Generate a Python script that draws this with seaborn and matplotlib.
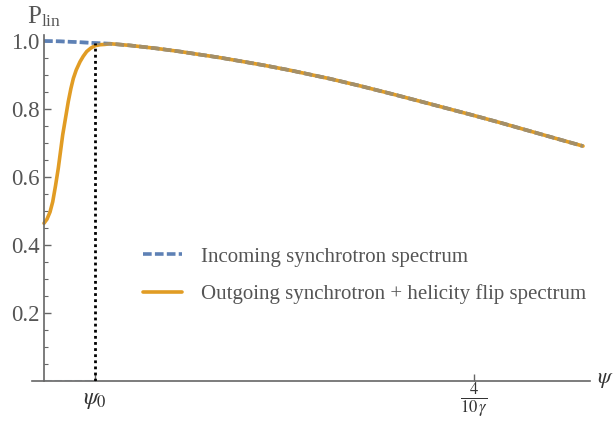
import numpy as np
import pandas as pd
import matplotlib
matplotlib.use("Agg")
import matplotlib.pyplot as plt
import seaborn as sns

# ---- data (psi in units where the tick 4/(10 gamma) = 0.4) ----
psi0 = 0.0474
psi_shared = [0.0474, 0.0614, 0.0800, 0.1051, 0.1265, 0.1451, 0.1619, 0.1823, 0.2056,
              0.2288, 0.2660, 0.2940, 0.3265, 0.3591, 0.3963, 0.4242, 0.4521, 0.4800, 0.5014]
p_shared = [0.994, 0.992, 0.987, 0.978, 0.969, 0.960, 0.952, 0.941, 0.928,
            0.914, 0.889, 0.868, 0.842, 0.815, 0.784, 0.760, 0.735, 0.710, 0.691]

psi_in_low = [0.0, 0.0149, 0.0298]
p_in_low = [1.000, 0.999, 0.997]

psi_out_low = [0.0, 0.0028, 0.0056, 0.0081, 0.0107, 0.0133, 0.0174, 0.0226, 0.0250, 0.0273,
               0.0300, 0.0335, 0.0365, 0.0397, 0.0435, 0.0474, 0.0520, 0.0567]
p_out_low = [0.464, 0.476, 0.497, 0.527, 0.574, 0.626, 0.724, 0.822, 0.860, 0.890,
             0.915, 0.939, 0.955, 0.969, 0.979, 0.986, 0.989, 0.990]

psi_in_floor = [0.0, 0.0474]
p_in_floor = [0.0, 0.0]

label_in = "Incoming synchrotron spectrum"
label_out = "Outgoing synchrotron + helicity flip spectrum"
xtick_vals = [psi0, 0.4]
xtick_labels = [r"$\psi_0$", r"$\frac{4}{10\,\gamma}$"]
ytick_vals = [0.2, 0.4, 0.6, 0.8, 1.0]
ytick_labels = ["0.2", "0.4", "0.6", "0.8", "1.0"]

df_in = pd.DataFrame({"psi": psi_in_low + psi_shared, "P": p_in_low + p_shared})
df_out = pd.DataFrame({"psi": psi_out_low + psi_shared[1:], "P": p_out_low + p_shared[1:]})
df_floor = pd.DataFrame({"psi": psi_in_floor, "P": p_in_floor})

sns.set_theme(style="white")
plt.rcParams["font.family"] = ["Liberation Serif", "DejaVu Serif"]
plt.rcParams["mathtext.fontset"] = "stix"

BLUE = "#5e81b5"
ORANGE = "#e19c24"
GRAY = "#555555"

fig = plt.figure(figsize=(6.13, 4.21), dpi=100)
ax = fig.add_axes([32/613, 40/421, 558/613, 346/421])

dash = (2.4, 0.9)
sns.lineplot(data=df_floor, x="psi", y="P", ax=ax, color=BLUE, lw=2.2, alpha=0.3,
             linestyle=(0, dash), sort=False, legend=False)
sns.lineplot(data=df_in, x="psi", y="P", ax=ax, color=BLUE, lw=2.6,
             linestyle=(0, dash), sort=False, label=label_in)
sns.lineplot(data=df_out, x="psi", y="P", ax=ax, color=ORANGE, lw=2.6,
             sort=False, label=label_out)
ax.plot(df_in["psi"], df_in["P"], color=BLUE, lw=2.6, linestyle=(0, dash), alpha=0.45)

ax.vlines(psi0, 0, p_shared[0], colors="black", linestyles=(0, (1, 1.2)), lw=2.0, zorder=5)

ax.set_xlim(-(44-32)/1075, (590-44)/1075)
ax.set_ylim(0, 346/340)

for s in ["top", "right"]:
    ax.spines[s].set_visible(False)
ax.spines["left"].set_position(("data", 0))
ax.spines["bottom"].set_position(("data", 0))
for s in ["left", "bottom"]:
    ax.spines[s].set_color("#666666")
    ax.spines[s].set_linewidth(1.2)

ax.set_yticks(ytick_vals)
ax.set_yticklabels(ytick_labels)
ax.set_yticks(np.arange(0.05, 1.0, 0.05), minor=True)
ax.set_xticks(xtick_vals)
ax.set_xticklabels(xtick_labels)
ax.tick_params(axis="y", which="major", direction="in", length=5, width=1, color="#666666",
               labelsize=16.5, labelcolor=GRAY, pad=3, left=True)
ax.tick_params(axis="y", which="minor", direction="in", length=3, width=0.8, color="#666666", left=True)
ax.tick_params(axis="x", which="major", direction="in", length=5, width=1, color="#666666",
               labelsize=17, labelcolor="#333333", pad=14, bottom=True)
for lab in ax.get_xticklabels():
    lab.set_va("center")
ax.set_xlabel("")
ax.set_ylabel("")

fig.text(27/613, 1-17/421, r"$\mathregular{P_{lin}}$", fontsize=18, color=GRAY, ha="left", va="center")
fig.text(597/613, 1-380/421, r"$\psi$", fontsize=16, color="#333333", ha="left", va="center")

leg = ax.legend(loc="upper left", bbox_to_anchor=(143/613, 1-247/421), bbox_transform=fig.transFigure,
                frameon=False, fontsize=15, borderpad=0, borderaxespad=0, handlelength=1.85,
                handletextpad=0.95, labelspacing=0.85)
for t in leg.get_texts():
    t.set_color(GRAY)

fig.savefig("out.png", dpi=100)
